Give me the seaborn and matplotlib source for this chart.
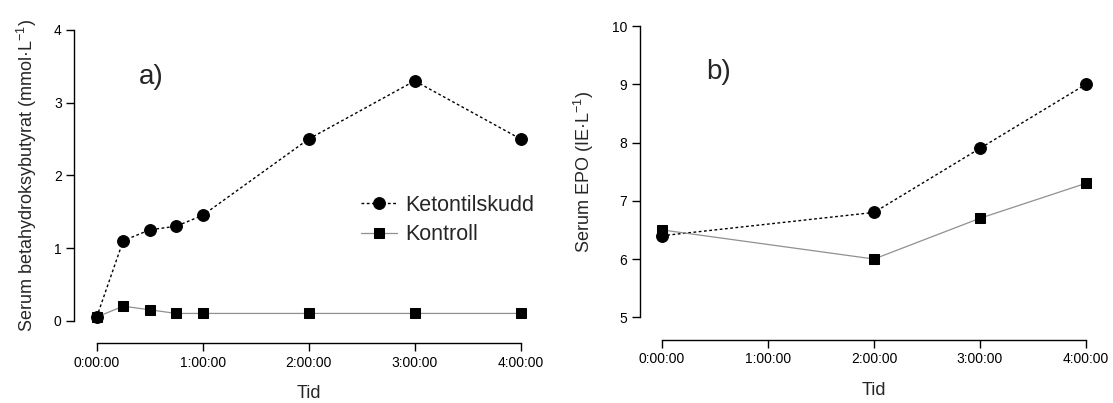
import matplotlib
matplotlib.use("Agg")
import matplotlib.pyplot as plt
import seaborn as sns
import pandas as pd

# ---- data ----
tid_a = [0, 0.25, 0.5, 0.75, 1, 2, 3, 4]
keton_a = [0.05, 1.1, 1.25, 1.3, 1.45, 2.5, 3.3, 2.5]
kontroll_a = [0.05, 0.2, 0.15, 0.1, 0.1, 0.1, 0.1, 0.1]

tid_b = [0, 2, 3, 4]
keton_b = [6.4, 6.8, 7.9, 9.0]
kontroll_b = [6.5, 6.0, 6.7, 7.3]

xtick_pos = [0, 1, 2, 3, 4]
xtick_labels = ["0:00:00", "1:00:00", "2:00:00", "3:00:00", "4:00:00"]
series_names = ["Ketontilskudd", "Kontroll"]

sns.set_style("ticks")
plt.rcParams["font.family"] = ["Liberation Sans", "DejaVu Sans"]
plt.rcParams["mathtext.fontset"] = "custom"
plt.rcParams["mathtext.rm"] = "Liberation Sans"
plt.rcParams["mathtext.it"] = "Liberation Sans"

W, H = 1113, 403
fig = plt.figure(figsize=(W / 100, H / 100), dpi=100)

def px_axes(x0, x1, ytop, ybot):
    return fig.add_axes([x0 / W, 1 - ybot / H, (x1 - x0) / W, (ybot - ytop) / H])

axA = px_axes(96.7, 520.7, 30, 320.7)
axB = px_axes(662, 1086, 26, 317.3)

def draw(ax, t, k, c):
    dfk = pd.DataFrame({"Tid": t, "v": k})
    dfc = pd.DataFrame({"Tid": t, "v": c})
    sns.lineplot(data=dfk, x="Tid", y="v", ax=ax, color="black", lw=1.0,
                 dashes=False, linestyle=(0, (2.0, 1.8)), marker="o", markersize=8.5,
                 markerfacecolor="black", markeredgecolor="black",
                 label=series_names[0], clip_on=False)
    sns.lineplot(data=dfc, x="Tid", y="v", ax=ax, color="#909090", lw=0.9,
                 marker="s", markersize=7, markerfacecolor="black",
                 markeredgecolor="black", label=series_names[1], clip_on=False)

draw(axA, tid_a, keton_a, kontroll_a)
draw(axB, tid_b, keton_b, kontroll_b)

def style(ax, ylim, yticks):
    ax.set_xlim(0, 4)
    ax.set_ylim(*ylim)
    ax.set_xticks(xtick_pos)
    ax.set_xticklabels(xtick_labels)
    ax.set_yticks(yticks)
    ax.spines["top"].set_visible(False)
    ax.spines["right"].set_visible(False)
    ax.spines["left"].set_position(("outward", 22.5 * 0.72))
    ax.spines["bottom"].set_position(("outward", 22.5 * 0.72))
    ax.spines["left"].set_bounds(ylim[0], ylim[1])
    ax.spines["bottom"].set_bounds(0, 4)
    for s in ("left", "bottom"):
        ax.spines[s].set_linewidth(1.0)
        ax.spines[s].set_color("black")
    ax.tick_params(axis="both", direction="out", length=6, width=1.0,
                   labelsize=10, colors="black", pad=3)
    ax.set_xlabel("Tid", fontsize=13, labelpad=11)

style(axA, (0, 4), [0, 1, 2, 3, 4])
style(axB, (5, 10), [5, 6, 7, 8, 9, 10])

axA.set_ylabel(r"Serum betahydroksybutyrat (mmol·L$^{-1}$)", fontsize=13, labelpad=11)
axB.set_ylabel(r"Serum EPO (IE·L$^{-1}$)", fontsize=13, labelpad=11)

axA.text(139 / W, 1 - 77 / H, "a)", transform=fig.transFigure, fontsize=20,
         va="center", ha="left")
axB.text(706 / W, 1 - 72 / H, "b)", transform=fig.transFigure, fontsize=20,
         va="center", ha="left")

if axB.get_legend():
    axB.get_legend().remove()
axA.legend(loc="center left", bbox_to_anchor=(360.7 / W, 1 - 220 / H),
           bbox_transform=fig.transFigure, frameon=False, fontsize=15.5,
           borderpad=0, borderaxespad=0, handlelength=1.67, handletextpad=0.39,
           labelspacing=0.4)

fig.savefig("out.png", dpi=100)
